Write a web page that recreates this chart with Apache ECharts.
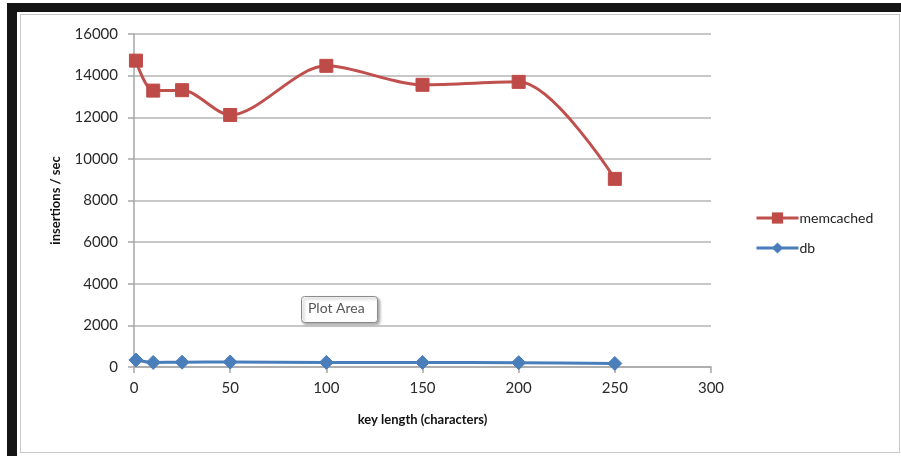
<!DOCTYPE html>
<html>
<head>
<meta charset="utf-8">
<script src="https://cdn.jsdelivr.net/npm/echarts@6/dist/echarts.min.js"></script>
<style>
  html, body { margin: 0; padding: 0; background: #fff; }
  #frame {
    position: absolute; left: 7px; top: 3px; width: 894px; height: 453px;
    box-sizing: border-box; background: #fff;
    border-left: 10px solid #141414; border-top: 9px solid #141414;
  }
  #inner {
    position: absolute; left: 3px; top: 2px; right: 1px; bottom: 3px;
    border: 1px solid #c8c8c8;
  }
  #chart { position: absolute; left: 0; top: 0; width: 901px; height: 456px; }
</style>
</head>
<body>
<div id="frame"><div id="inner"></div></div>
<div id="chart"></div>
<script>
// key length (characters)
const keyLengths = [1, 10, 25, 50, 100, 150, 200, 250];
// insertions / sec
const memcachedValues = [14720, 13280, 13300, 12110, 14470, 13560, 13700, 9040];
const dbValues = [340, 220, 230, 240, 220, 220, 210, 170];
const xTicks = [0, 50, 100, 150, 200, 250, 300];
const yTicks = [0, 2000, 4000, 6000, 8000, 10000, 12000, 14000, 16000];

const chart = echarts.init(document.getElementById('chart'));

const font = 'Lato, "Open Sans", sans-serif';
const axisGray = '#a6a6a6';

chart.setOption({
  animation: false,
  textStyle: { fontFamily: font },
  grid: { left: 134, right: 190, top: 34, bottom: 89 },
  legend: {
    orient: 'vertical',
    left: 750,
    top: 206,
    itemGap: 16,
    itemWidth: 42,
    itemHeight: 14,
    lineStyle: { width: 3 },
    textStyle: { fontFamily: font, fontSize: 14, color: '#222', padding: [0, 0, 0, -4] },
    data: ['memcached', 'db']
  },
  xAxis: {
    type: 'value',
    min: xTicks[0],
    max: xTicks[xTicks.length - 1],
    interval: 50,
    name: 'key length (characters)',
    nameLocation: 'middle',
    nameGap: 46,
    nameTextStyle: { fontFamily: font, fontSize: 13, fontWeight: 'bold', color: '#111' },
    axisLine: { show: true, lineStyle: { color: axisGray, width: 1.5 } },
    axisTick: { show: true, length: 6, lineStyle: { color: axisGray, width: 1.5 } },
    axisLabel: { fontSize: 15, color: '#2a2a2a', margin: 14 },
    splitLine: { show: false }
  },
  yAxis: {
    type: 'value',
    min: yTicks[0],
    max: yTicks[yTicks.length - 1],
    interval: 2000,
    name: 'insertions / sec',
    nameLocation: 'middle',
    nameGap: 72,
    nameRotate: 90,
    nameTextStyle: { fontFamily: font, fontSize: 13, fontWeight: 'bold', color: '#111' },
    axisLine: { show: true, lineStyle: { color: axisGray, width: 1.5 } },
    axisTick: { show: true, length: 6, lineStyle: { color: axisGray, width: 1.5 } },
    axisLabel: { fontSize: 15, color: '#2a2a2a', margin: 16, formatter: v => String(v) },
    splitLine: { show: true, lineStyle: { color: '#b4b4b4', width: 1.5 } }
  },
  series: [
    {
      name: 'memcached',
      type: 'line',
      smooth: 0.3,
      symbol: 'rect',
      symbolSize: 13,
      data: keyLengths.map((k, i) => [k, memcachedValues[i]]),
      lineStyle: { color: '#c0504d', width: 3 },
      itemStyle: { color: '#be4b48', borderColor: '#be4b48' }
    },
    {
      name: 'db',
      type: 'line',
      smooth: 0.3,
      symbol: 'diamond',
      symbolSize: 14,
      data: keyLengths.map((k, i) => [k, dbValues[i]]),
      lineStyle: { color: '#4a7ebb', width: 3 },
      itemStyle: { color: '#4a7ebb', borderColor: '#4a7ebb' }
    }
  ],
  graphic: [
    {
      type: 'rect',
      left: 301, top: 296,
      shape: { width: 76, height: 26, r: 3 },
      style: { fill: '#fff', stroke: '#8a8a8a', lineWidth: 1, shadowBlur: 3, shadowOffsetX: 2, shadowOffsetY: 2, shadowColor: 'rgba(0,0,0,0.35)' }
    },
    {
      type: 'text',
      left: 308, top: 301,
      style: { text: 'Plot Area', font: '14px ' + font, fill: '#555' }
    }
  ]
});
</script>
</body>
</html>
